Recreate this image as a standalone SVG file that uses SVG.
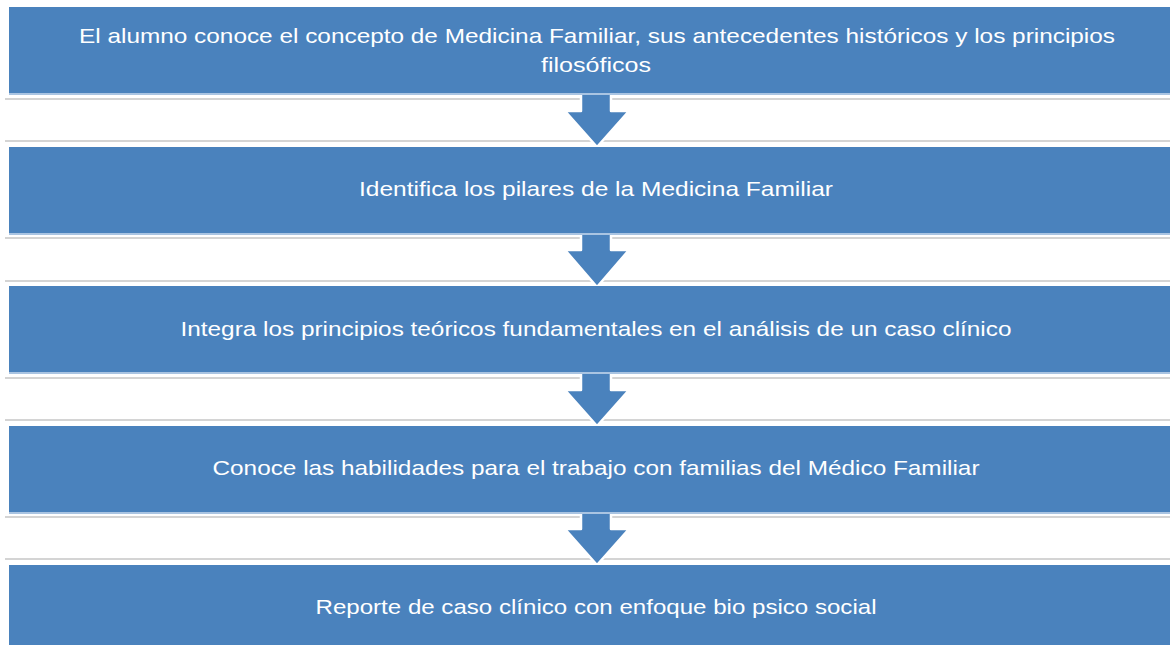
<svg xmlns="http://www.w3.org/2000/svg" width="1170" height="645" viewBox="0 0 1170 645">
<style>
.box{fill:#4A82BD}
.edge{fill:#A9C4E2}
.rule{stroke:#D4D4D4;stroke-width:2}
.arrow{fill:#4A82BD;stroke:#FFFFFF;stroke-width:2.5;stroke-linejoin:round}
.t{fill:#FFFFFF;font-family:"Liberation Sans",Arial,sans-serif;font-size:21px;text-anchor:middle}
</style>
<rect width="1170" height="645" fill="#FFFFFF"/>
<g id="connectors">
<line class="rule" x1="5" y1="99" x2="1170" y2="99"/>
<line class="rule" x1="5" y1="141" x2="1170" y2="141"/>
<line class="rule" x1="5" y1="238" x2="1170" y2="238"/>
<line class="rule" x1="5" y1="281" x2="1170" y2="281"/>
<line class="rule" x1="5" y1="378" x2="1170" y2="378"/>
<line class="rule" x1="5" y1="420" x2="1170" y2="420"/>
<line class="rule" x1="5" y1="517" x2="1170" y2="517"/>
<line class="rule" x1="5" y1="559" x2="1170" y2="559"/>
<path class="arrow" d="M581,93 L611,93 L611,111 L629,111 L597,147 L565,111 L581,111 Z"/>
<path class="arrow" d="M581,233 L611,233 L611,250 L629,250 L597,287 L565,250 L581,250 Z"/>
<path class="arrow" d="M581,372 L611,372 L611,390 L629,390 L597,426 L565,390 L581,390 Z"/>
<path class="arrow" d="M581,512 L611,512 L611,529 L629,529 L597,565 L565,529 L581,529 Z"/>
</g>
<g id="node1">
<rect class="box" x="9" y="7" width="1170" height="86"/>
<rect class="edge" x="9" y="93" width="1170" height="2"/>
<text class="t" x="597" y="43" textLength="1036" lengthAdjust="spacingAndGlyphs">El alumno conoce el concepto de Medicina Familiar, sus antecedentes históricos y los principios</text>
<text class="t" x="596" y="72" textLength="110" lengthAdjust="spacingAndGlyphs">filosóficos</text>
</g>
<g id="node2">
<rect class="box" x="9" y="147" width="1170" height="86"/>
<rect class="edge" x="9" y="233" width="1170" height="2"/>
<text class="t" x="596" y="196" textLength="474" lengthAdjust="spacingAndGlyphs">Identifica los pilares de la Medicina Familiar</text>
</g>
<g id="node3">
<rect class="box" x="9" y="286" width="1170" height="86"/>
<rect class="edge" x="9" y="372" width="1170" height="2"/>
<text class="t" x="596" y="336" textLength="831" lengthAdjust="spacingAndGlyphs">Integra los principios teóricos fundamentales en el análisis de un caso clínico</text>
</g>
<g id="node4">
<rect class="box" x="9" y="426" width="1170" height="86"/>
<rect class="edge" x="9" y="512" width="1170" height="2"/>
<text class="t" x="596" y="475" textLength="767" lengthAdjust="spacingAndGlyphs">Conoce las habilidades para el trabajo con familias del Médico Familiar</text>
</g>
<g id="node5">
<rect class="box" x="9" y="565" width="1170" height="86"/>
<text class="t" x="596" y="614" textLength="561" lengthAdjust="spacingAndGlyphs">Reporte de caso clínico con enfoque bio psico social</text>
</g>
</svg>
